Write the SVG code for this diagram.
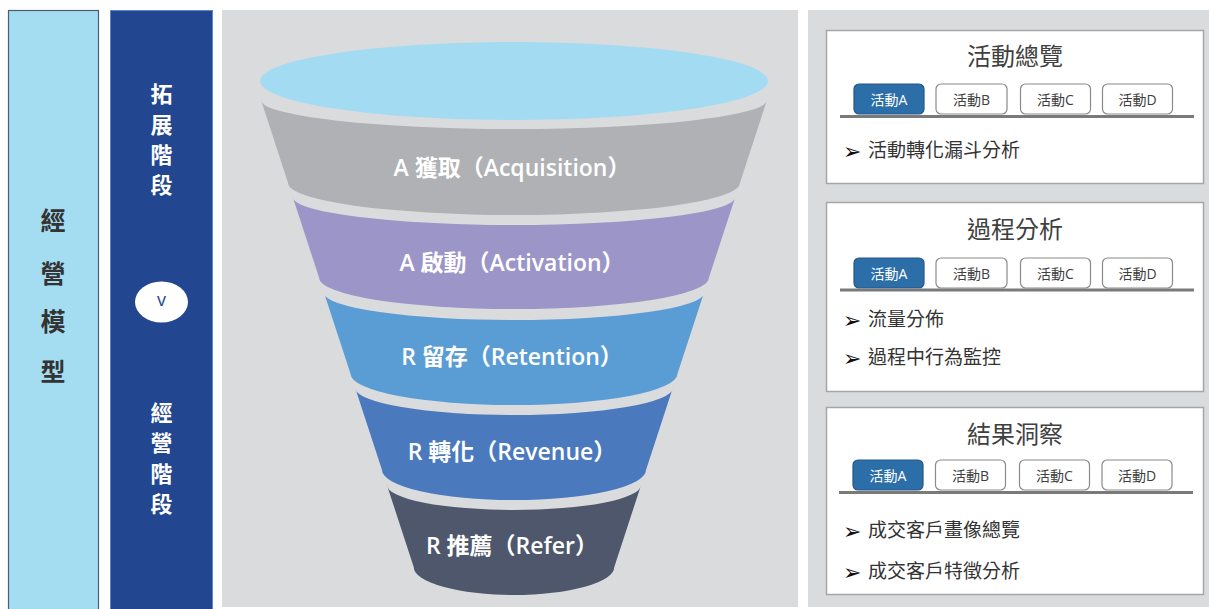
<svg xmlns="http://www.w3.org/2000/svg" width="1209" height="609" viewBox="0 0 1209 609">
<style>
.cjk{font-family:"Open Sans","Noto Sans CJK TC","Noto Sans CJK SC",sans-serif;}
.colL{font-family:"Noto Sans CJK TC",sans-serif;font-weight:bold;font-size:25px;fill:#333;text-anchor:middle;dominant-baseline:central;}
.colD{font-family:"Noto Sans CJK TC",sans-serif;font-weight:bold;font-size:22px;fill:#fff;text-anchor:middle;dominant-baseline:central;}
.flab{font-size:23px;font-weight:600;fill:#fff;text-anchor:middle;dominant-baseline:central;}
.box{fill:#fff;stroke:#a6a6a6;stroke-width:1.5;}
.title{font-size:24px;fill:#404040;text-anchor:middle;dominant-baseline:central;}
.tab{fill:#fff;stroke:#8a8a8a;stroke-width:1.2;}
.tabA{fill:#2c6ea8;stroke:#24568a;stroke-width:1.2;}
.tt{font-size:14px;fill:#404040;text-anchor:middle;dominant-baseline:central;}
.ttA{font-size:14px;fill:#fff;text-anchor:middle;dominant-baseline:central;}
.uline{stroke:#7a7a7a;stroke-width:3;}
.bul{font-family:"DejaVu Sans",sans-serif;font-size:22px;fill:#111;dominant-baseline:central;}
.btxt{font-size:19px;fill:#333;dominant-baseline:central;}
</style>
<rect width="1209" height="609" fill="#ffffff"/>
<g id="col-model">
<rect x="8.5" y="10.5" width="90" height="610" fill="#a4dcf2" stroke="#4b5b72" stroke-width="1.2"/>
<text class="colL" x="53" y="219">經</text>
<text class="colL" x="53" y="272">營</text>
<text class="colL" x="53" y="320">模</text>
<text class="colL" x="53" y="370">型</text>
</g>
<g id="col-stage">
<rect x="110.5" y="10.5" width="102" height="610" fill="#22468f" stroke="#5b86d0" stroke-width="1"/>
<text class="colD" x="161.5" y="92">拓</text>
<text class="colD" x="161.5" y="123">展</text>
<text class="colD" x="161.5" y="153">階</text>
<text class="colD" x="161.5" y="183">段</text>
<ellipse cx="161.5" cy="302" rx="26.5" ry="20.5" fill="#ffffff"/>
<text x="161.5" y="299" font-family="'Open Sans',sans-serif" font-size="18" fill="#22468f" text-anchor="middle" dominant-baseline="central">v</text>
<text class="colD" x="161.5" y="411">經</text>
<text class="colD" x="161.5" y="441">營</text>
<text class="colD" x="161.5" y="472">階</text>
<text class="colD" x="161.5" y="502">段</text>
</g>
<rect x="222" y="10" width="576" height="597" fill="#dadbdd"/>
<g id="funnel-top">
<ellipse cx="514" cy="81" rx="254" ry="39" fill="#a3dcf2"/>
</g>
<g id="band-acquisition">
<path d="M261,100 A253,29 0 0 0 767,100 L739.9,183 A225.9,32 0 0 1 288.1,183 Z" fill="#b0b1b4"/>
<text class="cjk flab" x="512" y="167">A 獲取（Acquisition）</text>
</g>
<g id="band-activation">
<path d="M292.7,197 A221.3,28 0 0 0 735.3,197 L708.8,278 A194.8,31 0 0 1 319.2,278 Z" fill="#9c95c8"/>
<text class="cjk flab" x="512" y="262">A 啟動（Activation）</text>
</g>
<g id="band-retention">
<path d="M324.1,293 A189.9,27 0 0 0 703.9,293 L677.4,374 A163.4,31 0 0 1 350.6,374 Z" fill="#5a9dd5"/>
<text class="cjk flab" x="512" y="356">R 留存（Retention）</text>
</g>
<g id="band-revenue">
<path d="M355.2,388 A158.8,27 0 0 0 672.8,388 L646,470 A132,30 0 0 1 382,470 Z" fill="#4b79be"/>
<text class="cjk flab" x="512" y="451">R 轉化（Revenue）</text>
</g>
<g id="band-refer">
<path d="M386.9,485 A127.1,25 0 0 0 641.1,485 L614.3,567 A100.3,28 0 0 1 413.7,567 Z" fill="#4e576c"/>
<text class="cjk flab" x="512" y="545">R 推薦（Refer）</text>
</g>
<rect x="808" y="10" width="401" height="597" fill="#dadbdd"/>
<g id="panel-overview">
<rect class="box" x="826.5" y="30.5" width="377" height="153"/>
<text class="cjk title" x="1015" y="55">活動總覽</text>
<rect class="tabA" x="854" y="84" width="70" height="30" rx="5"/>
<text class="cjk ttA" x="889" y="99.5">活動A</text>
<rect class="tab" x="936" y="84" width="71" height="30" rx="5"/>
<text class="cjk tt" x="971.5" y="99.5">活動B</text>
<rect class="tab" x="1020.5" y="84" width="70" height="30" rx="5"/>
<text class="cjk tt" x="1055.5" y="99.5">活動C</text>
<rect class="tab" x="1102.5" y="84" width="70" height="30" rx="5"/>
<text class="cjk tt" x="1137.5" y="99.5">活動D</text>
<line class="uline" x1="840" y1="116.5" x2="1194" y2="116.5"/>
<text class="bul" x="843" y="151">➢</text>
<text class="cjk btxt" x="868" y="150">活動轉化漏斗分析</text>
</g>
<g id="panel-process">
<rect class="box" x="826.5" y="202.5" width="377" height="189"/>
<text class="cjk title" x="1015" y="228">過程分析</text>
<rect class="tabA" x="854" y="258" width="70" height="30" rx="5"/>
<text class="cjk ttA" x="889" y="273">活動A</text>
<rect class="tab" x="936" y="258" width="71" height="30" rx="5"/>
<text class="cjk tt" x="971.5" y="273">活動B</text>
<rect class="tab" x="1020.5" y="258" width="70" height="30" rx="5"/>
<text class="cjk tt" x="1055.5" y="273">活動C</text>
<rect class="tab" x="1102.5" y="258" width="70" height="30" rx="5"/>
<text class="cjk tt" x="1137.5" y="273">活動D</text>
<line class="uline" x1="840" y1="290" x2="1194" y2="290"/>
<text class="bul" x="843" y="320">➢</text>
<text class="cjk btxt" x="868" y="319">流量分佈</text>
<text class="bul" x="843" y="358">➢</text>
<text class="cjk btxt" x="868" y="357">過程中行為監控</text>
</g>
<g id="panel-result">
<rect class="box" x="826.5" y="407.5" width="377" height="187"/>
<text class="cjk title" x="1015" y="433">結果洞察</text>
<rect class="tabA" x="853" y="460" width="70" height="30" rx="5"/>
<text class="cjk ttA" x="888" y="475.5">活動A</text>
<rect class="tab" x="935.5" y="460" width="70" height="30" rx="5"/>
<text class="cjk tt" x="970.5" y="475.5">活動B</text>
<rect class="tab" x="1019.5" y="460" width="70" height="30" rx="5"/>
<text class="cjk tt" x="1054.5" y="475.5">活動C</text>
<rect class="tab" x="1102" y="460" width="70" height="30" rx="5"/>
<text class="cjk tt" x="1137" y="475.5">活動D</text>
<line class="uline" x1="839" y1="492.5" x2="1193" y2="492.5"/>
<text class="bul" x="843" y="531">➢</text>
<text class="cjk btxt" x="868" y="530">成交客戶畫像總覽</text>
<text class="bul" x="843" y="572">➢</text>
<text class="cjk btxt" x="868" y="571">成交客戶特徵分析</text>
</g>
</svg>
